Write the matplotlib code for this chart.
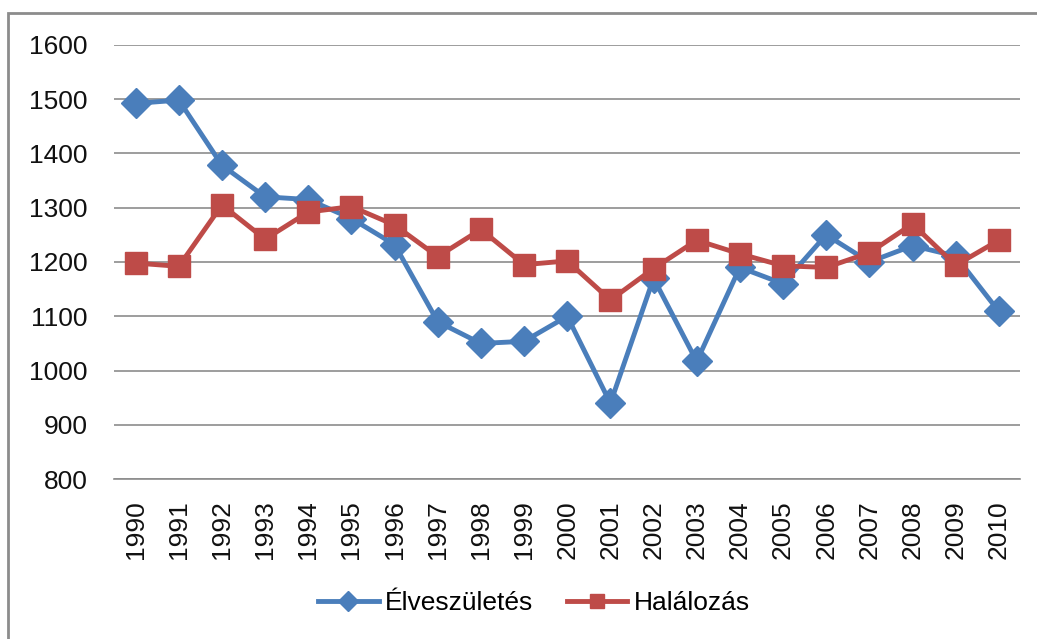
import matplotlib
matplotlib.use("Agg")
import matplotlib.pyplot as plt
from matplotlib.patches import Rectangle

years = [str(y) for y in range(1990, 2011)]
elveszuletes = [1492, 1498, 1378, 1320, 1315, 1280, 1232, 1090, 1050, 1054, 1100,
                940, 1170, 1017, 1190, 1160, 1250, 1200, 1230, 1211, 1109]
halalozas = [1198, 1192, 1305, 1242, 1292, 1302, 1268, 1210, 1260, 1195, 1202,
             1130, 1188, 1240, 1215, 1193, 1190, 1217, 1270, 1194, 1240]
yticks = [800, 900, 1000, 1100, 1200, 1300, 1400, 1500, 1600]

plt.rcParams["font.family"] = ["Liberation Sans", "DejaVu Sans"]

fig = plt.figure(figsize=(10.37, 6.39), dpi=100)
ax = fig.add_axes([0.110, 0.250, 0.874, 0.680])

x = range(len(years))
ax.plot(x, elveszuletes, color="#4a7ebb", lw=3.5, marker="D", ms=15,
        label="Élveszületés", zorder=3)
ax.plot(x, halalozas, color="#be4b48", lw=3.5, marker="s", ms=16.5,
        label="Halálozás", zorder=3)

ax.set_xlim(-0.5, len(years) - 0.5)
ax.set_ylim(800, 1600)
ax.set_yticks(yticks)
ax.set_xticks(list(x))
ax.set_xticklabels(years, rotation=90)
ax.grid(axis="y", color="#8c8c8c", lw=1.2)
ax.set_axisbelow(True)
for s in ["top", "right", "left"]:
    ax.spines[s].set_visible(False)
ax.spines["bottom"].set_color("#8c8c8c")
ax.spines["bottom"].set_linewidth(1.2)
ax.tick_params(axis="both", length=0, labelsize=19, colors="#111111", pad=15)
ax.tick_params(axis="y", pad=19)

ax.legend(loc="center", bbox_to_anchor=(0.515, 0.056), bbox_transform=fig.transFigure,
          ncol=2, frameon=False, fontsize=19, handlelength=2.3,
          columnspacing=1.25, handletextpad=0.25, markerscale=0.65)

fig.patches.append(Rectangle((8 / 1037, -0.05), 1.2, 1 - 13 / 639 + 0.05,
                             transform=fig.transFigure, fill=False,
                             edgecolor="#8c8c8c", lw=2))

fig.savefig("out.png", dpi=100)
